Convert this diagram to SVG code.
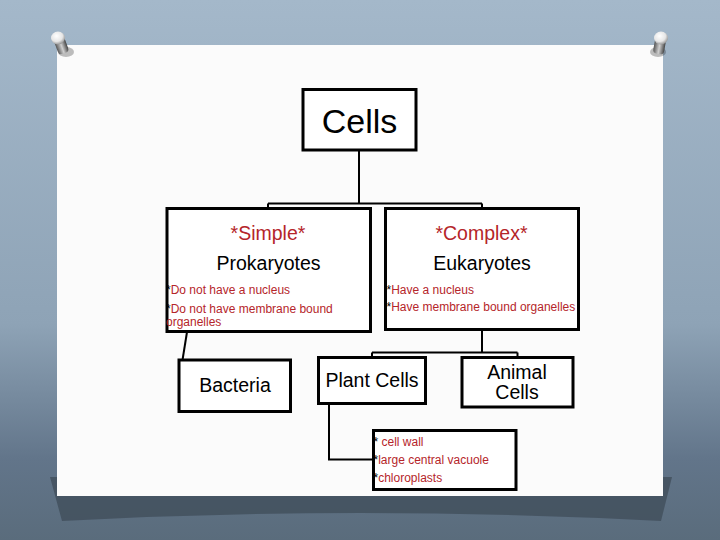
<svg xmlns="http://www.w3.org/2000/svg" width="720" height="540" viewBox="0 0 720 540">
<defs>
<linearGradient id="bg" x1="0" y1="0" x2="0" y2="1">
<stop offset="0" stop-color="#a4b8ca"/>
<stop offset="0.6" stop-color="#8ea3b6"/>
<stop offset="0.85" stop-color="#62758a"/>
<stop offset="1" stop-color="#5a6c7c"/>
</linearGradient>
<radialGradient id="pinhead" cx="0.4" cy="0.35" r="0.7">
<stop offset="0" stop-color="#ffffff"/>
<stop offset="0.6" stop-color="#e6e6e6"/>
<stop offset="1" stop-color="#8a8a8a"/>
</radialGradient>
<linearGradient id="shank" x1="0" y1="0" x2="1" y2="0">
<stop offset="0" stop-color="#555"/>
<stop offset="0.5" stop-color="#cfcfcf"/>
<stop offset="1" stop-color="#444"/>
</linearGradient>
<style>
.box{fill:#ffffff;stroke:#000;stroke-width:3}
.con{fill:none;stroke:#000;stroke-width:2}
.big{font-family:"Liberation Sans",Arial,sans-serif;font-size:19.5px;fill:#000}
.title{font-size:34px}
.red{font-family:"Liberation Sans",Arial,sans-serif;font-size:19.5px;fill:#b5252a}
.sm{font-family:"Liberation Sans",Arial,sans-serif;font-size:12px;fill:#b5252a}
.ast{fill:#000}
</style>
</defs>
<rect x="0" y="0" width="720" height="540" fill="url(#bg)"/>
<path d="M50 477 L672 477 L661 521 Q360 505 62 521 Z" fill="#3f4c58" opacity="0.75"/>
<rect x="57" y="45" width="606" height="451" fill="#fbfbfb"/>
<g id="pin-left">
<ellipse cx="66" cy="52" rx="8" ry="5" fill="#000" opacity="0.25"/>
<rect x="56" y="38" width="11" height="16" rx="4" fill="url(#shank)" transform="rotate(-20 61 46)"/>
<ellipse cx="58" cy="38" rx="7" ry="6.5" fill="url(#pinhead)"/>
</g>
<g id="pin-right">
<ellipse cx="658" cy="52" rx="8" ry="5" fill="#000" opacity="0.25"/>
<rect x="654" y="38" width="11" height="16" rx="4" fill="url(#shank)" transform="rotate(10 659 46)"/>
<ellipse cx="661" cy="38" rx="7" ry="6.5" fill="url(#pinhead)"/>
</g>
<g id="connectors">
<path class="con" d="M359 150 V203.5 M268 203.5 H482 M268 203.5 V209 M482 203.5 V209"/>
<path class="con" d="M187 332 L182.5 360"/>
<path class="con" d="M482 330 V352.5 M372 352.5 H517.5 M372 352.5 V358 M517.5 352.5 V358"/>
<path class="con" d="M329 403 V459.5 H373"/>
</g>
<g id="cells">
<rect class="box" x="303" y="89.5" width="113" height="60.5"/>
<text class="big title" x="359.5" y="132.5" text-anchor="middle">Cells</text>
</g>
<g id="prokaryotes">
<rect class="box" x="167" y="208.5" width="203.5" height="123"/>
<text class="red" x="268" y="239.5" text-anchor="middle">*Simple*</text>
<text class="big" x="268.5" y="269.5" text-anchor="middle">Prokaryotes</text>
<text class="sm" x="166" y="293.5"><tspan class="ast">*</tspan>Do not have a nucleus</text>
<text class="sm" x="166" y="312.5"><tspan class="ast">*</tspan>Do not have membrane bound</text>
<text class="sm" x="166" y="325.5">organelles</text>
</g>
<g id="eukaryotes">
<rect class="box" x="385.5" y="208.5" width="193" height="121"/>
<text class="red" x="481.5" y="239.5" text-anchor="middle">*Complex*</text>
<text class="big" x="482" y="270" text-anchor="middle">Eukaryotes</text>
<text class="sm" x="386.5" y="293.5"><tspan class="ast">*</tspan>Have a nucleus</text>
<text class="sm" x="386.5" y="311"><tspan class="ast">*</tspan>Have membrane bound organelles</text>
</g>
<g id="bacteria">
<rect class="box" x="179" y="360" width="111.5" height="51.5"/>
<text class="big" x="235" y="392" text-anchor="middle">Bacteria</text>
</g>
<g id="plant-cells">
<rect class="box" x="318.5" y="357.5" width="107" height="46"/>
<text class="big" x="372" y="387" text-anchor="middle">Plant Cells</text>
</g>
<g id="animal-cells">
<rect class="box" x="462" y="357.5" width="111" height="49.5"/>
<text class="big" x="517" y="378.5" text-anchor="middle">Animal</text>
<text class="big" x="517" y="398.5" text-anchor="middle">Cells</text>
</g>
<g id="plant-features">
<rect class="box" x="373.5" y="430.5" width="142.5" height="59"/>
<text class="sm" x="373.5" y="446"><tspan class="ast">*</tspan> cell wall</text>
<text class="sm" x="373.5" y="463.5"><tspan class="ast">*</tspan>large central vacuole</text>
<text class="sm" x="373.5" y="481.5"><tspan class="ast">*</tspan>chloroplasts</text>
</g>
</svg>
